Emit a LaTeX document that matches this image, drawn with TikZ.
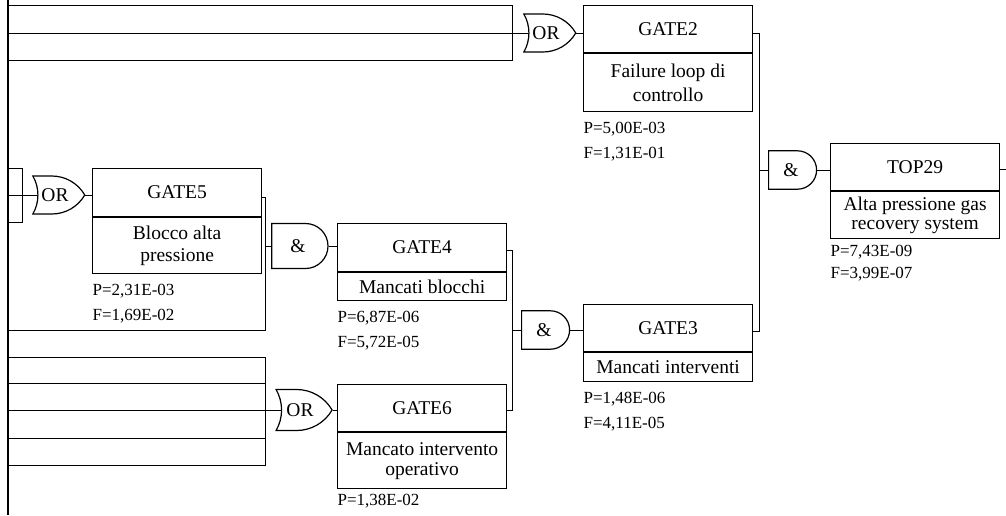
\documentclass[tikz,border=0pt]{standalone}
\usepackage{fontspec}
\setmainfont{Liberation Serif}
\usetikzlibrary{positioning,calc,backgrounds,shapes.gates.logic.US}

\begin{document}
\begin{tikzpicture}[x=1pt,y=-1pt,line width=1.2pt,
    every node/.style={font=\fontsize{19.5}{23}\selectfont},
    hdr/.style={draw,minimum width=169pt,minimum height=47pt,inner sep=0pt,anchor=north west},
    dsc/.style={draw,minimum width=169pt,minimum height=#1,inner sep=0pt,align=center,anchor=north},
    val/.style={anchor=north west,align=left,inner xsep=0pt,inner ysep=9pt,font=\fontsize{17}{25}\selectfont},
    orgate/.style={or gate US,draw,fill=white,logic gate inputs=nn,minimum width=48pt,minimum height=38pt,inner sep=0pt},
    andgate/.style={and gate US,draw,fill=white,logic gate inputs=nn,minimum width=48pt,minimum height=38pt,inner sep=0pt}]
    \useasboundingbox (0,0) rectangle (1006,515);

    % Left rail
    \coordinate (railtop) at (8,0);
    \coordinate (railbot) at (8,515);
    \draw (railtop) -- (railbot);

    % Boxes
    \node[hdr] (g2) at (583,5) {GATE2};
    \node[dsc=58pt,font=\fontsize{19.5}{24}\selectfont] (g2d) at (g2.south) {Failure loop di\\controllo};
    \node[hdr] (top) at (830,143) {TOP29};
    \node[dsc=47pt,font=\fontsize{19.5}{19}\selectfont] (topd) at (top.south) {Alta pressione gas\\recovery system};
    \node[hdr,minimum height=48pt] (g5) at (92,168) {GATE5};
    \node[dsc=56pt,font=\fontsize{19.5}{22}\selectfont] (g5d) at (g5.south) {Blocco alta\\pressione};
    \node[hdr,minimum height=48pt] (g4) at (337,223) {GATE4};
    \node[dsc=28pt] (g4d) at (g4.south) {Mancati blocchi};
    \node[hdr] (g3) at (583,304) {GATE3};
    \node[dsc=29pt] (g3d) at (g3.south) {Mancati interventi};
    \node[hdr] (g6) at (337,384) {GATE6};
    \node[dsc=56pt,font=\fontsize{19.5}{20}\selectfont] (g6d) at (g6.south) {Mancato intervento\\operativo};

    % Values
    \node[val] (v2) at (g2d.south west) {P=5,00E-03\\F=1,31E-01};
    \node[val,inner ysep=5pt,font=\fontsize{17}{22}\selectfont] (vtop) at (topd.south west) {P=7,43E-09\\F=3,99E-07};
    \node[val] (v5) at (g5d.south west) {P=2,31E-03\\F=1,69E-02};
    \node[val] (v4) at (g4d.south west) {P=6,87E-06\\F=5,72E-05};
    \node[val] (v3) at (g3d.south west) {P=1,48E-06\\F=4,11E-05};
    \node[val,inner ysep=4pt] (v6) at (g6d.south west) {P=1,38E-02};

    % Gates
    \node[orgate] (or2) at (546,33) {OR};
    \node[andgate] (andtop) at (791,170) {\&};
    \node[orgate] (or5) at (55,195) {OR};
    \node[andgate,minimum width=47pt,minimum height=45pt] (and4) at (298,246) {\&};
    \node[andgate,minimum height=37pt] (and3) at (544,330) {\&};
    \node[orgate,minimum height=41pt] (or6) at (300,410) {OR};

    \begin{pgfonlayer}{background}
    % Top bundle into GATE2
    \coordinate (b1a) at (512,5);
    \coordinate (b1b) at (512,60);
    \draw (railtop |- b1a) -- (b1a) -- (b1b) -- (railtop |- b1b);
    \draw (railtop |- or2.center) -- (or2.center);
    \draw (or2.output) -- (or2.output -| g2.west);

    % GATE2 and GATE3 into TOP29
    \coordinate (s1) at (759,33);
    \coordinate (s2) at (759,331);
    \draw (g2.east |- s1) -- (s1) -- (s2) -- (g3.east |- s2);
    \draw (s1 |- andtop.west) -- (andtop.west);
    \draw (andtop.output) -- (andtop.output -| top.west);
    \coordinate (topend) at (1006,169);
    \draw (top.east |- topend) -- (topend);

    % Small bundle into GATE5
    \coordinate (c5a) at (22,168);
    \coordinate (c5b) at (22,222);
    \draw (railtop |- c5a) -- (c5a) -- (c5b) -- (railtop |- c5b);
    \draw (railtop |- or5.center) -- (or5.center);
    \draw (or5.output) -- (or5.output -| g5.west);

    % GATE5 and rail into GATE4
    \coordinate (s3) at (265,197);
    \coordinate (s4) at (265,330);
    \draw (g5.east |- s3) -- (s3) -- (s4) -- (railtop |- s4);
    \draw (s3 |- and4.west) -- (and4.west);
    \draw (and4.output) -- (and4.output -| g4.west);

    % GATE4 and GATE6 into GATE3
    \coordinate (s5) at (512,250);
    \coordinate (s6) at (512,410);
    \draw (g4.east |- s5) -- (s5) -- (s6) -- (g6.east |- s6);
    \draw (s5 |- and3.west) -- (and3.west);
    \draw (and3.output) -- (and3.output -| g3.west);

    % Bottom bundle into GATE6
    \coordinate (c6a) at (265,357);
    \coordinate (c6b) at (265,465);
    \draw (railtop |- c6a) -- (c6a) -- (c6b) -- (railtop |- c6b);
    \foreach \y in {383,438}
        \draw (8,\y) -- (265,\y);
    \draw (railtop |- or6.center) -- (or6.center);
    \draw (or6.output) -- (or6.output -| g6.west);
    \end{pgfonlayer}
\end{tikzpicture}
\end{document}
